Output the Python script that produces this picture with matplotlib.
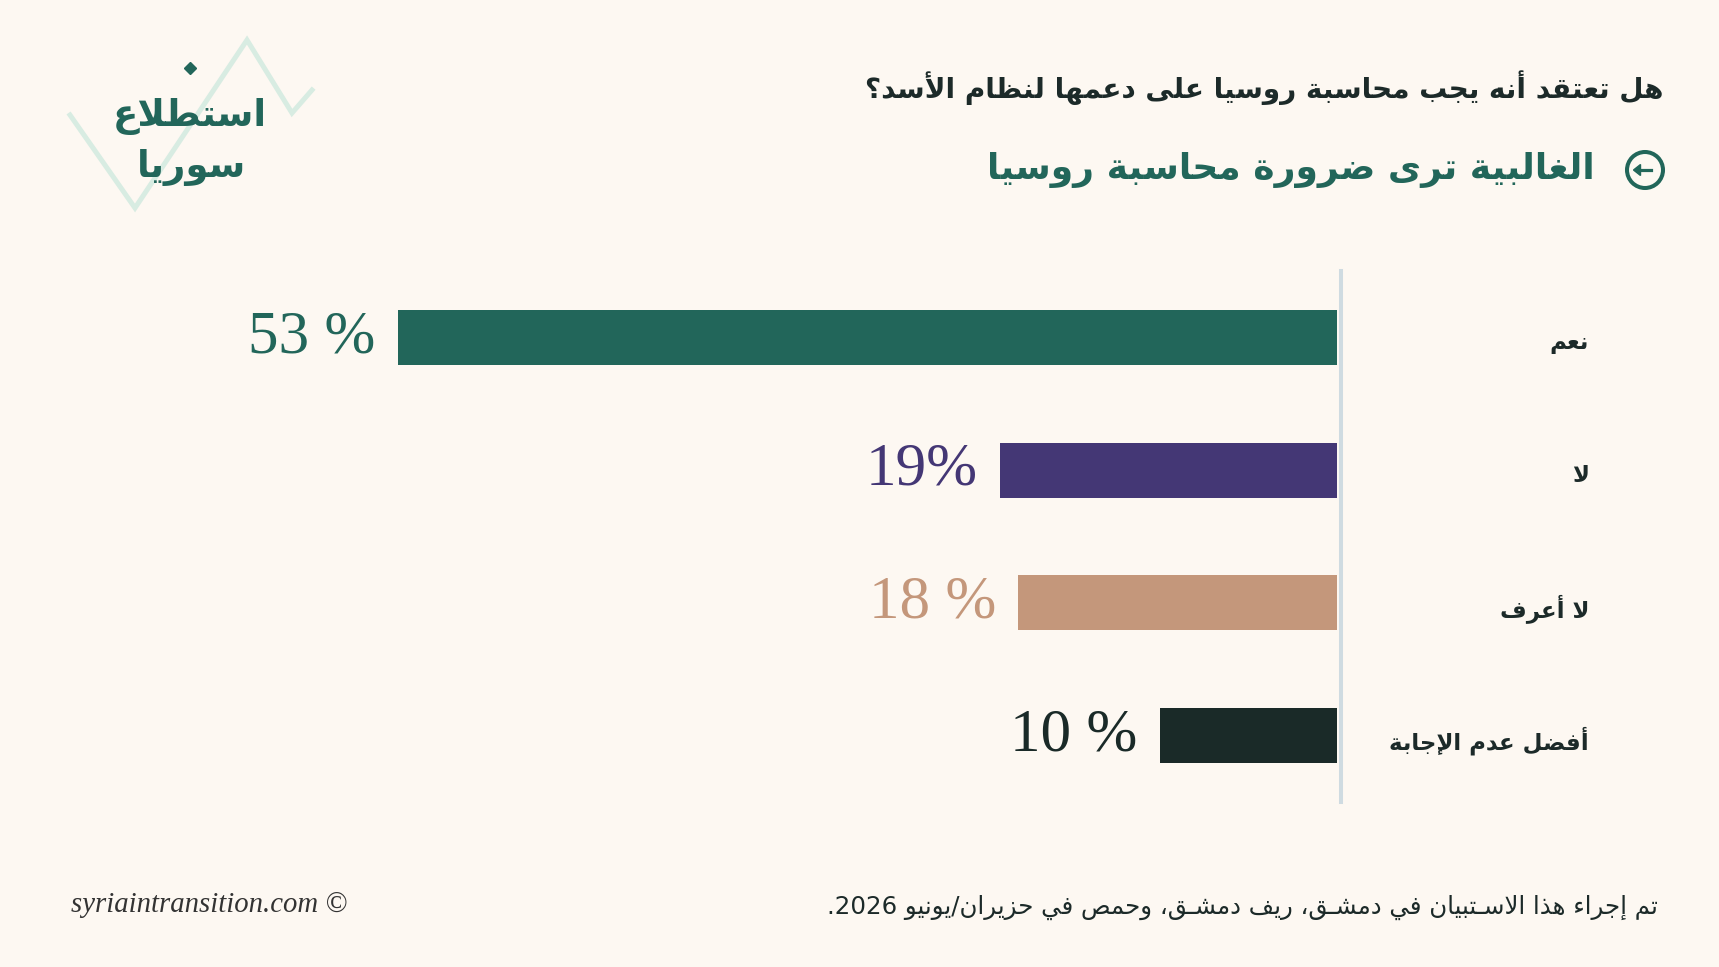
import re
import matplotlib
matplotlib.use('Agg')
import matplotlib.pyplot as plt
import matplotlib.transforms as mtransforms
from matplotlib.lines import Line2D
from matplotlib.patches import Circle, Polygon

# survey data
categories = ['نعم', 'لا', 'لا أعرف', 'أفضل عدم الإجابة']
values = [53, 19, 18, 10]
value_labels = ['53 %', '19%', '18 %', '10 %']
bar_colors = ['#22665a', '#443775', '#c4977b', '#1a2a28']

question = 'هل تعتقد أنه يجب محاسبة روسيا على دعمها لنظام الأسد؟'
headline = 'الغالبية ترى ضرورة محاسبة روسيا'
logo_lines = ['استطلاع', 'سوريا']
note = 'تم إجراء هذا الاسـتبيان في دمشـق، ريف دمشـق، وحمص في حزيران/يونيو 2026.'
credit = 'syriaintransition.com ©'

BG = '#fdf8f2'
GREEN = '#22665a'
DARK = '#1c2a29'

# --- minimal arabic shaping (matplotlib has no text shaping) ---
AR_FORMS = {
    'ء': (0xFE80, 1), 'آ': (0xFE81, 2), 'أ': (0xFE83, 2), 'ؤ': (0xFE85, 2),
    'إ': (0xFE87, 2), 'ئ': (0xFE89, 4), 'ا': (0xFE8D, 2), 'ب': (0xFE8F, 4),
    'ة': (0xFE93, 2), 'ت': (0xFE95, 4), 'ث': (0xFE99, 4), 'ج': (0xFE9D, 4),
    'ح': (0xFEA1, 4), 'خ': (0xFEA5, 4), 'د': (0xFEA9, 2), 'ذ': (0xFEAB, 2),
    'ر': (0xFEAD, 2), 'ز': (0xFEAF, 2), 'س': (0xFEB1, 4), 'ش': (0xFEB5, 4),
    'ص': (0xFEB9, 4), 'ض': (0xFEBD, 4), 'ط': (0xFEC1, 4), 'ظ': (0xFEC5, 4),
    'ع': (0xFEC9, 4), 'غ': (0xFECD, 4), 'ف': (0xFED1, 4), 'ق': (0xFED5, 4),
    'ك': (0xFED9, 4), 'ل': (0xFEDD, 4), 'م': (0xFEE1, 4), 'ن': (0xFEE5, 4),
    'ه': (0xFEE9, 4), 'و': (0xFEED, 2), 'ى': (0xFEEF, 2), 'ي': (0xFEF1, 4),
}
LAM_ALEF = {'آ': 0xFEF5, 'أ': 0xFEF7, 'إ': 0xFEF9, 'ا': 0xFEFB}
TATWEEL = 'ـ'


def joins_next(tok):
    kind, c = tok
    if kind == 'LA':
        return False
    return c == TATWEEL or (c in AR_FORMS and AR_FORMS[c][1] == 4)


def joins_prev(tok):
    kind, c = tok
    if kind == 'LA':
        return True
    return c == TATWEEL or (c in AR_FORMS and AR_FORMS[c][1] > 1)


def shape(s):
    toks = []
    i = 0
    while i < len(s):
        if s[i] == 'ل' and i + 1 < len(s) and s[i + 1] in LAM_ALEF:
            toks.append(('LA', s[i + 1]))
            i += 2
        else:
            toks.append(('C', s[i]))
            i += 1
    out = []
    for k, tok in enumerate(toks):
        pj = k > 0 and joins_next(toks[k - 1]) and joins_prev(tok)
        nj = k + 1 < len(toks) and joins_next(tok) and joins_prev(toks[k + 1])
        kind, c = tok
        if kind == 'LA':
            out.append(chr(LAM_ALEF[c] + (1 if pj else 0)))
        elif c in AR_FORMS:
            base, n = AR_FORMS[c]
            if n == 4:
                form = [[0, 2], [1, 3]][pj][nj]
            elif n == 2:
                form = 1 if pj else 0
            else:
                form = 0
            out.append(chr(base + form))
        else:
            out.append(c)
    return ''.join(out)


def ar(s):
    # shape, then put in visual (left to right) order; digit runs stay as they are
    runs = re.findall(r'[0-9A-Za-z]+|[^0-9A-Za-z]+', shape(s))
    return ''.join(r if r[0].isascii() and r[0].isalnum() else r[::-1]
                   for r in reversed(runs))


W, H = 1719, 967
fig = plt.figure(figsize=(W / 100, H / 100), dpi=100)
fig.patch.set_facecolor(BG)
renderer = fig.canvas.get_renderer()


def px(x, y):
    return x / W, 1 - y / H


def fit(t, width):
    bb = t.get_window_extent(renderer)
    t.set_fontsize(t.get_fontsize() * width / bb.width)
    return t.get_fontsize()


# logo: zigzag + two lines of text
zx = [70, 135, 247, 292, 312]
zy = [115, 208, 40, 113, 90]
fig.add_artist(Line2D([x / W for x in zx], [1 - y / H for y in zy],
                      color='#d8ece2', lw=3.6, transform=fig.transFigure,
                      solid_joinstyle='miter'))
t = fig.text(*px(190, 117), ar(logo_lines[0]), ha='center', va='center',
             color=GREEN, fontsize=30, weight='bold', family='DejaVu Sans')
fs = fit(t, 154)
fig.text(*px(191, 168), ar(logo_lines[1]), ha='center', va='center',
         color=GREEN, fontsize=fs, weight='bold', family='DejaVu Sans')
fig.add_artist(Line2D([190 / W], [1 - 68 / H], marker='D', ms=6, color=GREEN,
                      transform=fig.transFigure))

# question and headline
t = fig.text(*px(1663, 88), ar(question), ha='right', va='center',
             color=DARK, fontsize=22, weight='bold', family='DejaVu Sans')
fit(t, 797)
t = fig.text(*px(1595, 170), ar(headline), ha='right', va='center',
             color=GREEN, fontsize=28, weight='bold', family='DejaVu Sans')
fit(t, 609)

# circled arrow icon
cx, cy = 16.45, (H - 170) / 100
fig.add_artist(Circle((cx, cy), 0.18, fill=False, ec=GREEN, lw=2.9,
                      transform=fig.dpi_scale_trans))
fig.add_artist(Line2D([cx - 0.04, cx + 0.055], [cy, cy], color=GREEN, lw=2.3,
                      transform=fig.dpi_scale_trans))
fig.add_artist(Polygon([[cx - 0.115, cy], [cx - 0.045, cy + 0.055],
                        [cx - 0.045, cy - 0.055]], color=GREEN,
                       transform=fig.dpi_scale_trans))

# bars grow to the left from the baseline
ax = fig.add_axes([274 / W, 165 / H, 1063 / W, 531 / H])
ax.set_facecolor('none')
y = range(len(values))
ax.barh(y, values, height=0.415, color=bar_colors)
ax.set_xlim(60, 0)
ax.set_ylim(3.5, -0.5)
ax.axis('off')
ax.axvline(-0.23, color='#cfdbe1', lw=2.9, clip_on=False)

for i, (v, lab, c) in enumerate(zip(values, value_labels, bar_colors)):
    ax.text(v + 1.25, i, lab, ha='right', va='center', color=c,
            fontsize=44, family='Liberation Serif')

trans = mtransforms.blended_transform_factory(fig.transFigure, ax.transData)
cat_texts = [ax.text(1589 / W, i + 0.04, ar(cat), transform=trans, ha='right',
                     va='center', color=DARK, fontsize=17, weight='bold',
                     family='DejaVu Sans', clip_on=False)
             for i, cat in enumerate(categories)]
fs = fit(cat_texts[3], 200)
for t in cat_texts:
    t.set_fontsize(fs)

# footer
t = fig.text(*px(1658, 907), ar(note), ha='right', va='center', color=DARK,
             fontsize=16, family='DejaVu Sans')
fit(t, 834)
t = fig.text(*px(71, 905), credit, ha='left', va='center', color='#333333',
             fontsize=18, family='Liberation Serif', style='italic')
fit(t, 276)

fig.savefig('out.png', dpi=100, facecolor=BG)
